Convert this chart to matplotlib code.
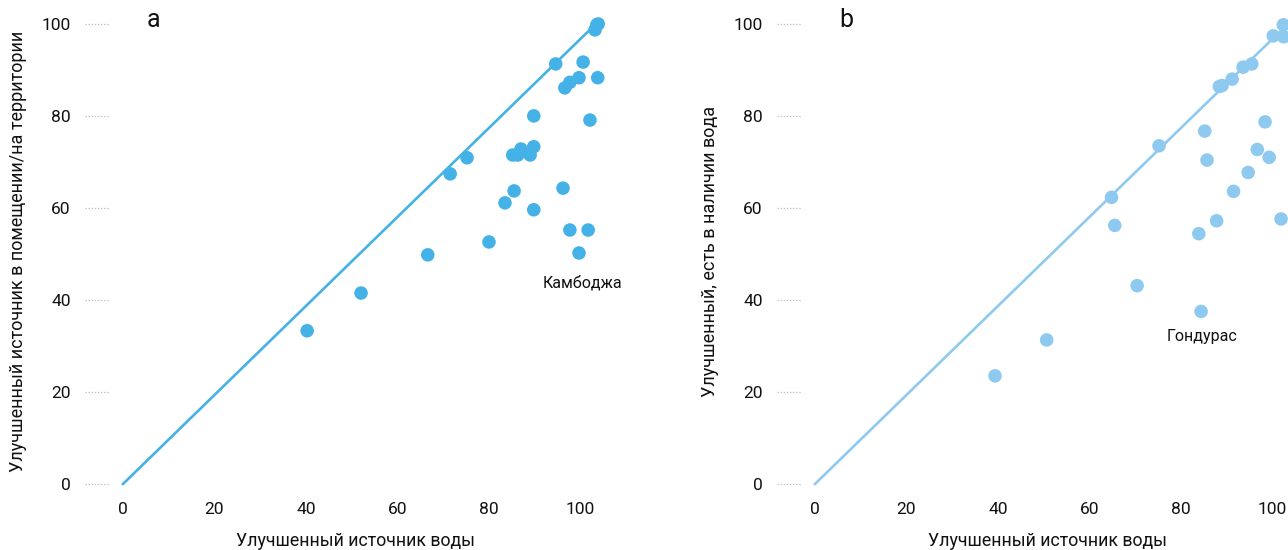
import matplotlib
matplotlib.use("Agg")
import matplotlib.pyplot as plt

plt.rcParams["font.family"] = ["Roboto", "DejaVu Sans"]

# Panel a: improved source vs. improved source on premises
A_X = [40.3, 52.1, 66.7, 71.6, 75.3, 80.1, 83.6, 85.6, 85.3, 86.4, 87.1, 89.1,
       89.9, 89.9, 89.9, 94.7, 96.3, 96.7, 97.8, 99.8, 97.8, 99.8, 100.7,
       101.8, 102.2, 103.9, 103.3, 103.7, 104.0]
A_Y = [33.3, 41.5, 49.8, 67.4, 70.9, 52.6, 61.1, 63.7, 71.5, 71.5, 72.8, 71.5,
       73.3, 80.0, 59.6, 91.3, 64.3, 86.1, 87.3, 88.3, 55.2, 50.2, 91.7,
       55.2, 79.1, 88.3, 98.7, 99.8, 100.0]

# Panel b: improved source vs. improved source with water available
B_X = [39.4, 50.7, 64.9, 65.6, 70.5, 75.3, 84.0, 84.5, 85.3, 85.8, 87.9, 88.5,
       89.1, 91.3, 91.6, 93.7, 94.8, 95.6, 96.8, 98.5, 99.4, 100.3, 102.0,
       102.5, 102.6]
B_Y = [23.5, 31.3, 62.3, 56.2, 43.1, 73.5, 54.4, 37.5, 76.7, 70.4, 57.2, 86.4,
       86.6, 88.0, 63.6, 90.6, 67.7, 91.3, 72.7, 78.7, 71.0, 97.4, 57.6,
       99.8, 97.2]

# reference line (parity) as drawn in the original
LINE_X = [0, 103.5]
LINE_Y = [0, 100]

TICKS = [0, 20, 40, 60, 80, 100]

panels = [
    dict(x=A_X, y=A_Y, color="#44b2e6", letter="a",
         ylabel="Улучшенный источник в помещении/на территории",
         note="Камбоджа", note_xy=(100.6, 43.8)),
    dict(x=B_X, y=B_Y, color="#8ec9f0", letter="b",
         ylabel="Улучшенный, есть в наличии вода",
         note="Гондурас", note_xy=(84.7, 32.0)),
]

fig = plt.figure(figsize=(12.88, 5.5), dpi=100)
lefts = [95.6 / 1288, 787.6 / 1288]

for left, p in zip(lefts, panels):
    ax = fig.add_axes([left, 0.095, 530 / 1288, 0.895])
    ax.set_xlim(-6, 110)
    ax.set_ylim(-3, 104)

    ax.plot(LINE_X, LINE_Y, color=p["color"], lw=1.9, zorder=2)
    ax.scatter(p["x"], p["y"], s=95, color=p["color"], edgecolors="none", zorder=3)
    ax.text(p["note_xy"][0], p["note_xy"][1], p["note"], fontsize=11.5,
            ha="center", va="center", color="#111111")

    for s in ax.spines.values():
        s.set_visible(False)
    ax.set_xticks(TICKS)
    ax.set_yticks(TICKS)
    ax.tick_params(axis="both", length=0, labelsize=12.5, colors="#111111")
    ax.tick_params(axis="y", pad=18)
    ax.tick_params(axis="x", pad=3)

    # short dotted guides next to the y tick labels
    for t in TICKS:
        ax.plot([-0.02, 0.025], [t, t], transform=ax.get_yaxis_transform(),
                color="#bbbbbb", lw=0.9, ls=(0, (1, 1.5)), clip_on=False)

    ax.set_xlabel("Улучшенный источник воды", fontsize=12.8, color="#111111")
    ax.xaxis.set_label_coords(0.49, -0.07)
    ax.set_ylabel(p["ylabel"], fontsize=13, labelpad=10, color="#111111")
    ax.text(0.11, 0.995, p["letter"], transform=ax.transAxes, fontsize=18,
            ha="center", va="top", color="#111111")

fig.savefig("out.png", dpi=100)
